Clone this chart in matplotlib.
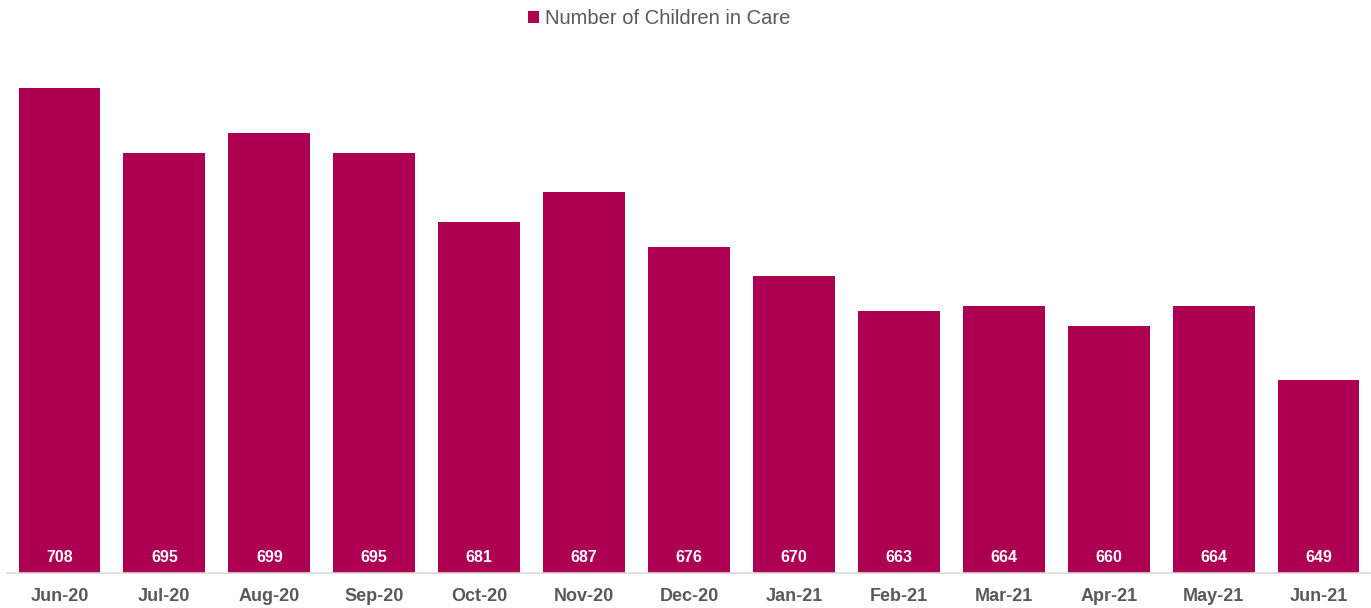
import numpy as np
import matplotlib
matplotlib.use("Agg")
import matplotlib.pyplot as plt

plt.rcParams['font.family'] = ['Liberation Sans', 'DejaVu Sans']

months = ['Jun-20', 'Jul-20', 'Aug-20', 'Sep-20', 'Oct-20', 'Nov-20', 'Dec-20',
          'Jan-21', 'Feb-21', 'Mar-21', 'Apr-21', 'May-21', 'Jun-21']
children = [708, 695, 699, 695, 681, 687, 676, 670, 663, 664, 660, 664, 649]

bar_color = '#AE0052'
W, H = 1371, 608
fig = plt.figure(figsize=(W / 100, H / 100), dpi=100)
ax = fig.add_axes([7 / W, 35 / H, (W - 7) / W, (573 - 29) / H])

x = np.arange(len(months))
bars = ax.bar(x, children, width=0.78, color=bar_color, label='Number of Children in Care',
              zorder=2)

ymin = 610
ax.set_ylim(ymin, 720)
ax.set_xlim(-0.5, len(months) - 0.5)

for xi, v in zip(x, children):
    ax.text(xi, ymin + 3.2, str(v), ha='center', va='center', color='white',
            fontsize=11.5, fontweight='bold', zorder=3)

ax.set_xticks(x)
ax.set_xticklabels(months, fontsize=13, fontweight='bold', color='#595959')
ax.tick_params(axis='x', length=0, pad=11)
ax.set_yticks([])
for s in ['top', 'right', 'left']:
    ax.spines[s].set_visible(False)
ax.spines['bottom'].set_color('#D9D9D9')
ax.spines['bottom'].set_linewidth(1.2)

fig.legend(handles=[bars], labels=['Number of Children in Care'], loc='center',
           bbox_to_anchor=(659 / W, 1 - 19 / H), frameon=False, fontsize=14.5,
           handlelength=0.55, handleheight=0.55, handletextpad=0.3,
           labelcolor='#595959')

fig.savefig('out.png', dpi=100)
